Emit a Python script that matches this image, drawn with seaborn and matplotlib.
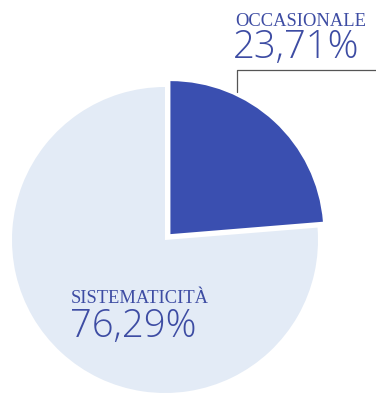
import matplotlib
matplotlib.use("Agg")
import matplotlib.pyplot as plt
import seaborn as sns

labels = ["OCCASIONALE", "SISTEMATICITÀ"]
values = [23.71, 76.29]
value_labels = ["23,71%", "76,29%"]
colors = ["#3a4fb0", "#e3ebf6"]

sns.set_theme(style="white")
plt.rcParams['font.family'] = ['Liberation Serif', 'DejaVu Serif']

fig = plt.figure(figsize=(3.76, 3.95), dpi=100)
ax = fig.add_axes([0, 0, 1, 1])

ax.pie(values, colors=colors, startangle=90, counterclock=False,
       explode=[8, 0], center=(165, 155), radius=153,
       wedgeprops=dict(linewidth=0), frame=True)
ax.set_xlim(0, 376)
ax.set_ylim(0, 395)
ax.set_aspect('equal')
ax.axis('off')

txt_color = "#3d4ca3"
num_font = dict(family=['Open Sans', 'Roboto', 'DejaVu Sans'], weight='light')
ax.text(235, 395 - 26, labels[0], fontsize=13.3, color=txt_color, ha='left', va='baseline')
ax.text(233, 395 - 58, value_labels[0], fontsize=27.5, color=txt_color, ha='left',
        va='baseline', **num_font)
ax.text(71, 395 - 303, labels[1], fontsize=13.3, color=txt_color, ha='left', va='baseline')
ax.text(70, 395 - 337, value_labels[1], fontsize=27.5, color=txt_color, ha='left',
        va='baseline', **num_font)

# leader line
ax.plot([376, 236.5, 236.5], [395 - 70, 395 - 70, 395 - 92], color="#555555", lw=0.9)

fig.savefig("out.png", dpi=100)
